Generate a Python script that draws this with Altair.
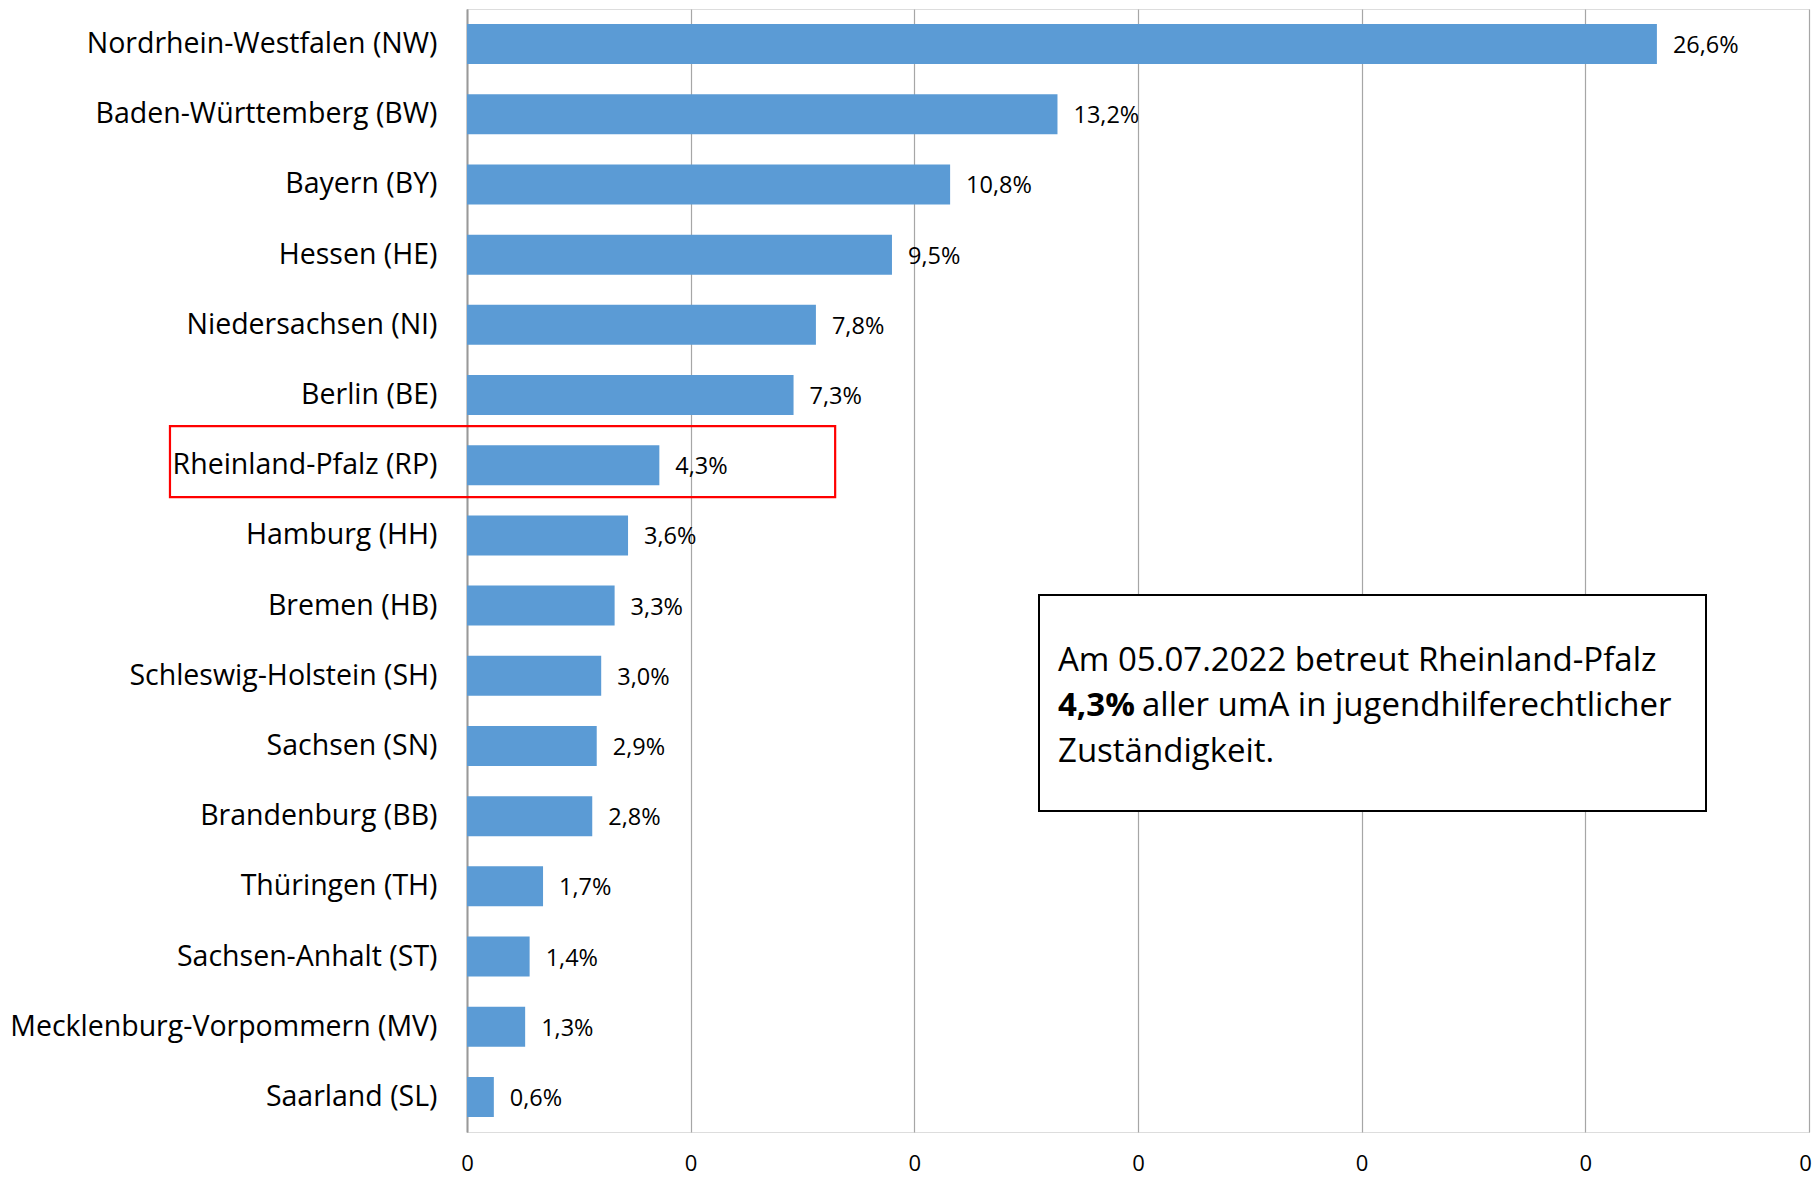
import altair as alt
import pandas as pd

laender = [
    "Nordrhein-Westfalen (NW)", "Baden-Württemberg (BW)", "Bayern (BY)", "Hessen (HE)",
    "Niedersachsen (NI)", "Berlin (BE)", "Rheinland-Pfalz (RP)", "Hamburg (HH)",
    "Bremen (HB)", "Schleswig-Holstein (SH)", "Sachsen (SN)", "Brandenburg (BB)",
    "Thüringen (TH)", "Sachsen-Anhalt (ST)", "Mecklenburg-Vorpommern (MV)", "Saarland (SL)",
]
anteil = [0.266, 0.132, 0.108, 0.095, 0.078, 0.073, 0.043, 0.036,
          0.033, 0.030, 0.029, 0.028, 0.017, 0.014, 0.013, 0.006]
tick_values = [0, 0.05, 0.10, 0.15, 0.20, 0.25, 0.30]

anno_lines = ["Am 05.07.2022 betreut Rheinland-Pfalz", "4,3%", "aller umA in jugendhilferechtlicher", "Zuständigkeit."]
highlight = "Rheinland-Pfalz (RP)"

df = pd.DataFrame({"land": laender, "anteil": anteil})
df["label"] = [f"{v*100:.1f}%".replace(".", ",") for v in anteil]

FONT = "Open Sans"
W, H = 1342, 1123

y_enc = alt.Y("land:N", sort=laender, title=None,
              scale=alt.Scale(paddingInner=0.43, paddingOuter=0.215),
              axis=alt.Axis(labelFontSize=28.5, labelColor="black", labelFont=FONT,
                            labelPadding=30, labelLimit=0, ticks=False,
                            domainColor="#999999", domainWidth=2))
x_enc = alt.X("anteil:Q", title=None,
              scale=alt.Scale(domain=[0, 0.30], nice=False, zero=True),
              axis=alt.Axis(values=tick_values, format=".0f", grid=True,
                            gridColor="#a6a6a6", gridWidth=1.2, domain=False, ticks=False,
                            labelFontSize=22, labelColor="black", labelFont=FONT,
                            labelPadding=21, labelFlush=False,
                            labelOffset={"condition": {"test": "datum.value >= 0.299", "value": -4},
                                         "value": 0}))

base = alt.Chart(df)
bars = base.mark_bar(color="#5B9BD5").encode(x=x_enc, y=y_enc)
labels = base.mark_text(align="left", baseline="middle", dx=16, dy=2, fontSize=23.5,
                        font=FONT, color="black").encode(
    x="anteil:Q", y=alt.Y("land:N", sort=laender), text="label:N")

# red highlight box around Rheinland-Pfalz row
hl = alt.Chart(pd.DataFrame({"land": [highlight]})).mark_bar(
    fill="white", fillOpacity=0, stroke="#ff0000", strokeWidth=2.2, height=71, yOffset=-3.5
).encode(x=alt.datum(-0.0664), x2=alt.datum(0.0823), y=alt.Y("land:N", sort=laender))

one = pd.DataFrame({"a": [0]})
box = alt.Chart(one).mark_rect(fill="white", stroke="black", strokeWidth=2).encode(
    x=alt.value(572), x2=alt.value(1239), y=alt.value(586), y2=alt.value(802))
TS = 33
t1 = alt.Chart(one).mark_text(align="left", baseline="middle", fontSize=TS, font=FONT,
                              color="black", text=anno_lines[0]).encode(
    x=alt.value(591), y=alt.value(652))
t2b = alt.Chart(one).mark_text(align="left", baseline="middle", fontSize=TS, font=FONT,
                               fontWeight="bold", color="black", text=anno_lines[1]).encode(
    x=alt.value(591), y=alt.value(697))
t2 = alt.Chart(one).mark_text(align="left", baseline="middle", fontSize=TS, font=FONT,
                              color="black", text=anno_lines[2]).encode(
    x=alt.value(675), y=alt.value(697))
t3 = alt.Chart(one).mark_text(align="left", baseline="middle", fontSize=TS, font=FONT,
                              color="black", text=anno_lines[3]).encode(
    x=alt.value(591), y=alt.value(743))

chart = alt.layer(bars, labels, hl, box, t1, t2b, t2, t3).properties(
    width=W, height=H,
    autosize=alt.AutoSizeParams(type="none"),
    padding={"left": 459, "top": 1, "right": 3, "bottom": 44},
).configure_view(stroke=None).configure(background="white")

chart.save("out.html", embed_options={"renderer": "svg", "actions": False})
